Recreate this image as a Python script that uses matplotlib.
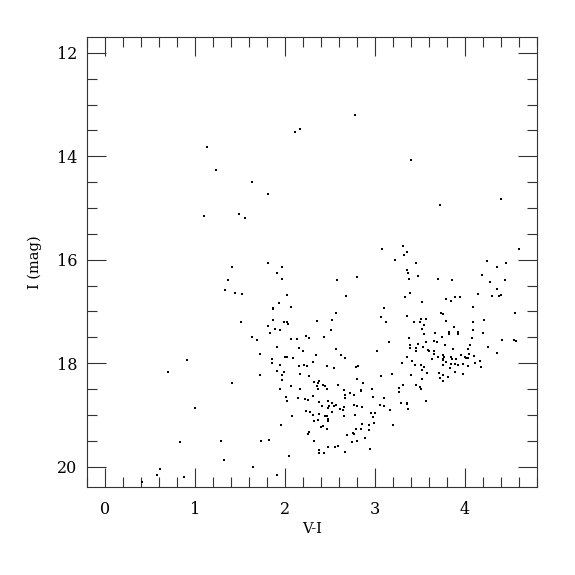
import matplotlib
matplotlib.use("Agg")
import matplotlib.pyplot as plt
from matplotlib.ticker import MultipleLocator

# Bright / upper stars
vi_a = [1.13, 1.23, 2.78, 2.11, 2.16, 1.63, 1.81, 3.40, 1.10, 1.49, 1.55, 1.41, 1.36, 1.33, 1.44, 1.52, 1.51]
i_a = [13.82, 14.26, 13.20, 13.54, 13.47, 14.49, 14.72, 14.08, 15.15, 15.11, 15.20, 16.14, 16.39, 16.58, 16.65, 16.66, 17.21]

# Middle-left group
vi_b = [3.08, 3.22, 1.81, 1.97, 1.91, 1.97, 2.58, 2.80, 2.02, 2.68, 1.93, 2.06, 1.87, 1.86, 3.10, 2.56, 3.07, 3.12, 1.87, 1.99,
        2.02, 2.03, 2.35, 2.52, 1.81, 1.89, 1.94, 1.83, 2.51, 1.63, 2.23, 2.27, 2.43, 2.07, 2.13, 1.69]
i_b = [15.80, 16.01, 16.06, 16.14, 16.26, 16.38, 16.40, 16.34, 16.68, 16.71, 16.83, 16.91, 16.93, 16.95, 16.93, 17.03, 17.10, 17.20, 17.17, 17.20,
       17.20, 17.25, 17.19, 17.16, 17.29, 17.33, 17.36, 17.41, 17.35, 17.49, 17.47, 17.51, 17.49, 17.54, 17.54, 17.56]

# Red upper group
vi_c = [3.72, 4.40, 4.60, 3.31, 3.35, 3.32, 3.46, 3.35, 3.37, 3.48,
        3.38, 3.70, 3.85, 4.24, 4.46, 4.36, 4.19, 4.28, 4.44, 4.35,
        4.14, 4.30, 4.38, 4.40, 3.39, 3.33, 3.52, 3.79, 3.84, 3.89,
        3.94, 4.09, 4.56, 3.35, 3.43, 3.51, 3.50, 3.57, 3.73, 3.75,
        3.79, 3.52, 3.54, 3.54, 3.67, 3.88, 3.82, 3.82, 3.92, 3.92,
        4.09, 4.09, 4.21, 4.20, 3.38, 3.74, 4.08]
i_c = [14.95, 14.82, 15.79, 15.74, 15.85, 15.90, 16.07, 16.20, 16.25, 16.32,
       16.38, 16.38, 16.39, 16.03, 16.06, 16.14, 16.30, 16.43, 16.40, 16.57,
       16.66, 16.70, 16.70, 16.68, 16.64, 16.72, 16.81, 16.76, 16.79, 16.72,
       16.73, 16.92, 17.03, 17.09, 17.21, 17.14, 17.20, 17.14, 17.03, 17.05,
       17.19, 17.34, 17.27, 17.43, 17.41, 17.30, 17.40, 17.43, 17.39, 17.43,
       17.21, 17.35, 17.16, 17.41, 17.52, 17.50, 17.52]

# Red lower group
vi_d = [3.16, 4.41, 4.54, 4.57, 4.26, 4.35, 4.05, 4.03, 4.04, 4.03,
        4.01, 4.00, 4.10, 4.11, 4.17, 4.18, 4.03, 3.98, 3.96, 3.98,
        3.87, 3.78, 3.69, 3.65, 3.57, 3.48, 3.53, 3.45, 3.45, 3.39,
        3.39, 3.59, 3.60, 3.65, 3.66, 3.63, 3.70, 3.76, 3.77, 3.75,
        3.75, 3.79, 3.84, 3.85, 3.90, 3.89, 3.92, 3.84, 3.83, 3.76,
        3.89, 3.81, 3.76, 3.75, 3.72, 3.71, 3.36, 3.41, 3.44, 3.51,
        3.54, 3.52, 3.58, 3.52, 3.30, 3.40, 3.19, 3.31, 3.27, 3.27,
        3.45, 3.50, 3.51, 3.29, 3.35, 3.36, 3.37, 3.57, 3.17, 3.20]
i_d = [17.59, 17.56, 17.56, 17.58, 17.68, 17.81, 17.64, 17.73, 17.82, 17.90,
       17.90, 17.88, 17.87, 17.99, 17.96, 18.08, 18.05, 18.20, 17.85, 18.01,
       17.72, 17.65, 17.60, 17.58, 17.59, 17.63, 17.68, 17.71, 17.77, 17.65,
       17.70, 17.75, 17.77, 17.76, 17.83, 17.91, 17.88, 17.85, 17.88, 17.92,
       17.94, 17.97, 17.88, 17.92, 17.92, 18.01, 18.03, 18.02, 18.10, 18.03,
       18.17, 18.27, 18.23, 18.34, 18.28, 18.19, 17.88, 17.95, 18.03, 18.03,
       18.08, 18.14, 18.19, 18.30, 18.00, 18.23, 18.21, 18.43, 18.48, 18.55,
       18.43, 18.46, 18.49, 18.77, 18.79, 18.77, 18.89, 18.74, 18.90, 19.19]

# Faint central group
vi_e = [3.02, 2.56, 2.62, 2.66, 2.79, 2.81, 3.06, 1.91, 1.72, 1.85,
        1.85, 2.00, 2.02, 2.09, 2.15, 2.20, 2.34, 2.31, 2.21, 2.24,
        2.15, 1.94, 2.47, 2.54, 1.72, 1.91, 1.99, 1.96, 2.17, 2.27,
        1.96, 2.32, 2.38, 2.36, 2.42, 2.44, 2.35, 2.36, 2.47, 2.06,
        1.94, 2.17, 2.59, 2.65, 2.72, 2.66, 2.66, 2.77, 2.80, 2.87,
        2.84, 2.84, 2.97, 2.98, 3.10, 3.05, 3.10, 2.01, 2.02, 2.14,
        2.22, 2.25, 2.31, 2.38, 2.41, 2.48, 2.49, 2.48, 2.52, 2.54,
        2.56, 2.61, 2.64, 2.65, 2.52, 2.76, 2.80, 2.85, 2.95, 3.00,
        2.98, 2.99, 2.23, 2.28, 2.31, 2.38, 2.44, 2.46, 2.36, 2.32,
        2.48, 2.48, 2.65, 2.78, 2.08, 1.95, 2.42, 2.40, 2.46, 2.85,
        2.84, 2.79, 2.93, 2.93, 2.75, 2.77, 2.69, 2.89, 2.80, 2.74,
        2.66, 2.94, 2.27, 2.25, 2.32, 1.73, 1.82, 2.48, 2.55, 2.59,
        2.38, 2.38, 2.43, 2.04, 1.64, 1.91]
i_e = [17.76, 17.72, 17.85, 17.90, 18.07, 18.05, 18.24, 17.68, 17.83, 17.92,
       18.00, 17.88, 17.88, 17.90, 17.70, 17.76, 17.85, 17.97, 18.03, 18.05,
       18.06, 18.03, 18.05, 18.09, 18.23, 18.16, 18.17, 18.23, 18.21, 18.24,
       18.32, 18.37, 18.34, 18.39, 18.43, 18.44, 18.44, 18.49, 18.50, 18.45,
       18.50, 18.50, 18.43, 18.52, 18.57, 18.61, 18.67, 18.61, 18.31, 18.38,
       18.52, 18.54, 18.50, 18.65, 18.68, 18.80, 18.83, 18.66, 18.73, 18.67,
       18.70, 18.72, 18.64, 18.75, 18.82, 18.73, 18.83, 18.87, 18.77, 18.82,
       18.80, 18.88, 18.90, 18.84, 18.95, 18.80, 18.82, 18.85, 18.96, 18.96,
       19.04, 19.15, 18.92, 18.94, 19.01, 18.98, 19.03, 19.03, 19.09, 19.11,
       19.08, 19.12, 19.03, 19.01, 19.03, 19.19, 19.21, 19.23, 19.28, 19.17,
       19.27, 19.28, 19.19, 19.29, 19.35, 19.37, 19.39, 19.44, 19.50, 19.52,
       19.71, 19.66, 19.34, 19.37, 19.50, 19.50, 19.49, 19.62, 19.62, 19.61,
       19.68, 19.74, 19.74, 19.80, 20.00, 20.17]

# Blue faint stars
vi_f = [0.91, 0.70, 1.41, 1.00, 0.83, 1.29, 1.32, 0.61, 0.58, 0.87, 0.41]
i_f = [17.94, 18.17, 18.39, 18.87, 19.52, 19.50, 19.88, 20.05, 20.17, 20.21, 20.30]

vi = vi_a + vi_b + vi_c + vi_d + vi_e + vi_f
imag = i_a + i_b + i_c + i_d + i_e + i_f

x_ticks = [0, 1, 2, 3, 4]
y_ticks = [12, 14, 16, 18, 20]

plt.rcParams['font.family'] = ['DejaVu Serif']

fig = plt.figure(figsize=(5.75, 5.75), dpi=100)
ax = fig.add_axes([87.3 / 575, 1 - 487.3 / 575, (537 - 87.3) / 575, (487.3 - 37.3) / 575])

ax.plot(vi, imag, linestyle='none', marker='s', ms=1.6, mew=0, color='black')

ax.set_xlim(-0.2, 4.8)
ax.set_ylim(20.4, 11.7)
ax.set_xticks(x_ticks)
ax.set_yticks(y_ticks)
ax.xaxis.set_minor_locator(MultipleLocator(0.2))
ax.yaxis.set_minor_locator(MultipleLocator(0.5))

for s in ax.spines.values():
    s.set_linewidth(0.8)
    s.set_color('#333333')

ax.tick_params(which='both', direction='in', top=True, right=True, color='#333333', width=0.8)
ax.tick_params(which='major', length=13.5)
ax.tick_params(which='minor', length=7)
ax.tick_params(axis='x', which='major', pad=10, labelsize=11.5)
ax.tick_params(axis='y', which='major', pad=7, labelsize=11.5)

ax.set_xlabel('V-I', fontsize=10.5, labelpad=3)
ax.set_ylabel('I (mag)', fontsize=10.5, labelpad=11)

fig.savefig('out.png', dpi=100)
